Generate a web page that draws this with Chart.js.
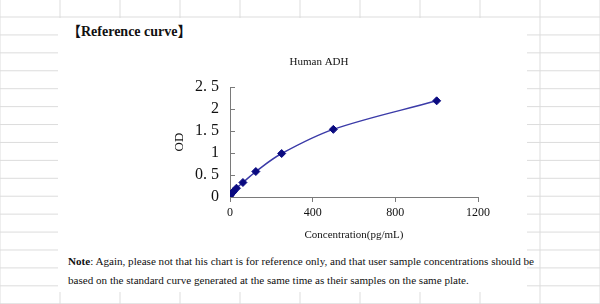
<!DOCTYPE html>
<html>
<head>
<meta charset="utf-8">
<script src="https://cdn.jsdelivr.net/npm/chart.js@4"></script>
<style>
  html, body { margin: 0; padding: 0; }
  body {
    width: 600px; height: 304px; position: relative; overflow: hidden;
    background-color: #fff;
    background-image:
      linear-gradient(#dcdcdc 1px, transparent 1px),
      linear-gradient(90deg, #dcdcdc 1px, transparent 1px);
    background-size: 600px 17.93px, 60px 304px;
    background-position: 0 16.5px, 59.5px 0;
  }
  .panel { position: absolute; left: 58px; top: 18px; width: 469px; height: 274px; background: #fff; }
  .heading {
    position: absolute; left: 67px; top: 20px;
    font: bold 14px "Liberation Serif", "Noto Sans CJK SC", serif; color: #111;
  }
  .note {
    position: absolute; left: 68px; top: 252px; width: 480px;
    font: 11.1px/19px "Liberation Serif", serif; color: #111; white-space: nowrap;
  }
  .chart-box { position: absolute; left: 160px; top: 50px; width: 340px; height: 200px; }
</style>
</head>
<body>
<div class="panel"></div>
<div class="heading">【Reference curve】</div>
<div class="chart-box"><canvas id="c" width="340" height="200"></canvas></div>
<div class="note"><b>Note</b>: Again, please not that his chart is for reference only, and that user sample concentrations should be<br>based on the standard curve generated at the same time as their samples on the same plate.</div>
<script>
// standard curve readings (pg/mL vs OD)
const concentrations = [0, 7.8, 15.6, 31.25, 62.5, 125, 250, 500, 1000];
const odValues = [0.03, 0.08, 0.12, 0.2, 0.33, 0.58, 0.99, 1.54, 2.19];
const xTickLabels = ['0', '400', '800', '1200'];
const yTickLabels = ['0', '0. 5', '1', '1. 5', '2', '2. 5'];

const serif = '"Liberation Serif", "Times New Roman", serif';
const axisColor = '#7a7a7a';

// Excel-style inside tick marks on the value axis
const innerTicks = {
  id: 'innerTicks',
  afterDraw(chart) {
    const y = chart.scales.y, ctx = chart.ctx, left = chart.chartArea.left;
    ctx.save();
    ctx.strokeStyle = axisColor;
    ctx.lineWidth = 1;
    y.ticks.forEach(t => {
      const py = Math.round(y.getPixelForValue(t.value)) + 0.5;
      ctx.beginPath();
      ctx.moveTo(left, py);
      ctx.lineTo(left + 5, py);
      ctx.stroke();
    });
    ctx.restore();
  }
};

new Chart(document.getElementById('c'), {
  type: 'line',
  data: {
    datasets: [{
      data: concentrations.map((x, i) => ({ x, y: odValues[i] })),
      borderColor: '#3b3ba8',
      borderWidth: 1.5,
      tension: 0.35,
      pointStyle: 'rectRot',
      pointRadius: 4,
      pointBackgroundColor: '#0a0a80',
      pointBorderColor: '#0a0a80',
      pointBorderWidth: 1
    }]
  },
  options: {
    responsive: false,
    animation: false,
    layout: { padding: { left: 0, right: 22, top: 0, bottom: 0 } },
    plugins: {
      legend: { display: false },
      tooltip: { enabled: false },
      title: {
        display: true,
        text: 'Human ADH',
        color: '#111',
        font: { family: serif, size: 11, weight: 'normal' },
        padding: { top: 6, bottom: 18 }
      }
    },
    scales: {
      x: {
        type: 'linear',
        min: 0, max: 1200,
        afterFit(s) { s.height = 53; },
        border: { color: axisColor },
        grid: { drawOnChartArea: false, drawTicks: true, tickLength: 5, color: axisColor },
        ticks: {
          stepSize: 400, padding: 4, color: '#111', maxRotation: 0,
          font: { family: serif, size: 12 },
          callback: (v, i) => xTickLabels[i]
        },
        title: {
          display: true, text: 'Concentration(pg/mL)', color: '#111',
          font: { family: serif, size: 11 }, padding: { top: 0, bottom: 8 }
        }
      },
      y: {
        min: 0, max: 2.5,
        afterFit(s) { s.width = 70; },
        border: { color: axisColor },
        grid: { drawOnChartArea: false, drawTicks: false },
        ticks: {
          stepSize: 0.5, padding: 11, color: '#111', autoSkip: false,
          font: { family: serif, size: 16 },
          callback: (v, i) => yTickLabels[i]
        },
        title: {
          display: true, text: 'OD', color: '#111',
          font: { family: serif, size: 13 }, padding: { top: 12, bottom: 0 }
        }
      }
    }
  },
  plugins: [innerTicks]
});
</script>
</body>
</html>
